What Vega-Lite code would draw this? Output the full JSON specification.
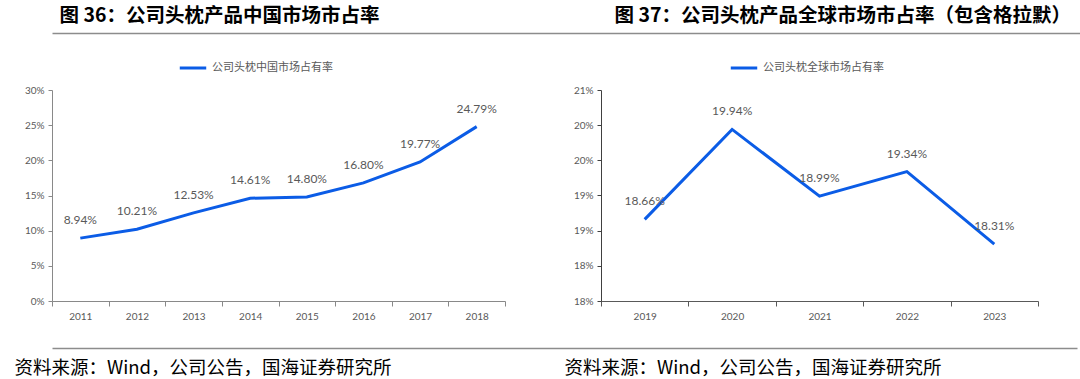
{
  "$schema": "https://vega.github.io/schema/vega-lite/v6.json",
  "padding": {"left": 0, "right": 2, "top": 5, "bottom": 2},
  "config": {
    "view": {"stroke": null},
    "font": "Noto Sans CJK SC",
    "axis": {"labelFont": "Lato", "grid": false},
    "legend": {"labelFont": "Noto Sans CJK SC"}
  },
  "align": "none",
  "spacing": 20,
  "vconcat": [
    {
      "width": 1075,
      "height": 2,
      "mark": {"type": "point", "opacity": 0},
      "encoding": {
        "x": {"datum": 0, "type": "quantitative", "scale": {"domain": [0, 1]},
          "axis": {"orient": "bottom", "domain": true, "domainColor": "#8c8c8c", "domainWidth": 1.5, "ticks": false, "labels": false, "grid": false,
            "title": "图 36：公司头枕产品中国市场市占率", "titleX": 7, "titleY": -8, "titleAlign": "left", "titleAnchor": "start", "titleBaseline": "bottom", "titleFontSize": 19.5, "titleFontWeight": "bold", "titleColor": "#000000", "titleFont": "Noto Sans CJK SC"}},
        "y": {"datum": 0, "type": "quantitative", "scale": {"domain": [0, 1]},
          "axis": {"orient": "left", "domain": false, "ticks": false, "labels": false, "grid": false,
            "title": "图 37：公司头枕产品全球市场市占率（包含格拉默）", "titleX": 562, "titleY": -6, "titleAngle": 0, "titleAlign": "left", "titleAnchor": "start", "titleBaseline": "bottom", "titleFontSize": 19.5, "titleFontWeight": "bold", "titleColor": "#000000", "titleFont": "Noto Sans CJK SC"}}
      }
    },
    {
      "spacing": 55,
      "hconcat": [
        {
          "width": 453,
          "height": 211,
          "data": {"values": [
            {"year": "2011", "share": 0.0894, "series": "公司头枕中国市场占有率"},
            {"year": "2012", "share": 0.1021, "series": "公司头枕中国市场占有率"},
            {"year": "2013", "share": 0.1253, "series": "公司头枕中国市场占有率"},
            {"year": "2014", "share": 0.1461, "series": "公司头枕中国市场占有率"},
            {"year": "2015", "share": 0.1480, "series": "公司头枕中国市场占有率"},
            {"year": "2016", "share": 0.1680, "series": "公司头枕中国市场占有率"},
            {"year": "2017", "share": 0.1977, "series": "公司头枕中国市场占有率"},
            {"year": "2018", "share": 0.2479, "series": "公司头枕中国市场占有率"}
          ]},
          "encoding": {
            "x": {"field": "year", "type": "ordinal", "scale": {"type": "band", "paddingInner": 0, "paddingOuter": 0},
              "axis": {"tickBand": "extent", "labelAngle": 0, "domainColor": "#898989", "tickColor": "#898989", "tickSize": 5, "labelPadding": 5, "labelFontSize": 10, "labelColor": "#595959",
                "title": "%", "titleX": 0, "titleY": 17, "titleAlign": "left", "titleBaseline": "top", "titleOpacity": 0, "titleFontSize": 8}},
            "y": {"field": "share", "type": "quantitative", "scale": {"domain": [0, 0.3], "nice": false, "zero": false},
              "axis": {"values": [0, 0.05, 0.1, 0.15, 0.2, 0.25, 0.3], "format": ".0%", "domainColor": "#898989", "tickColor": "#898989", "tickSize": 4, "labelPadding": 4, "labelFontSize": 10, "labelColor": "#595959",
                "title": "%", "titleX": -52, "titleY": 100, "titleAngle": 0, "titleAlign": "left", "titleOpacity": 0, "titleFontSize": 8}}
          },
          "layer": [
            {
              "mark": {"type": "line", "strokeWidth": 3},
              "encoding": {
                "color": {"field": "series", "type": "nominal", "scale": {"range": ["#0b5ce6"]},
                  "legend": {"orient": "none", "legendX": 126, "legendY": -37, "direction": "horizontal", "title": null, "symbolType": "stroke", "symbolSize": 700, "symbolStrokeWidth": 3, "labelFontSize": 11, "labelColor": "#595959"}}
              }
            },
            {
              "mark": {"type": "text", "dy": -18, "fontSize": 12, "font": "Lato", "color": "#595959"},
              "encoding": {"text": {"field": "share", "type": "quantitative", "format": ".2%"}}
            }
          ]
        },
        {
          "width": 437,
          "height": 211,
          "data": {"values": [
            {"year": "2019", "share": 0.1866, "series": "公司头枕全球市场占有率"},
            {"year": "2020", "share": 0.1994, "series": "公司头枕全球市场占有率"},
            {"year": "2021", "share": 0.1899, "series": "公司头枕全球市场占有率"},
            {"year": "2022", "share": 0.1934, "series": "公司头枕全球市场占有率"},
            {"year": "2023", "share": 0.1831, "series": "公司头枕全球市场占有率"}
          ]},
          "encoding": {
            "x": {"field": "year", "type": "ordinal", "scale": {"type": "band", "paddingInner": 0, "paddingOuter": 0},
              "axis": {"tickBand": "extent", "labelAngle": 0, "domainColor": "#595959", "tickColor": "#595959", "tickSize": 5, "labelPadding": 5, "labelFontSize": 10, "labelColor": "#595959", "title": null}},
            "y": {"field": "share", "type": "quantitative", "scale": {"domain": [0.175, 0.205], "nice": false, "zero": false},
              "axis": {"values": [0.175, 0.18, 0.185, 0.19, 0.195, 0.2, 0.205], "labelExpr": "format(round(datum.value * 100 + 0.001), 'd') + '%'", "domainColor": "#404040", "tickColor": "#404040", "tickSize": 4, "labelPadding": 4, "labelFontSize": 10, "labelColor": "#595959",
                "title": "%", "titleX": -40, "titleY": 100, "titleAngle": 0, "titleAlign": "left", "titleOpacity": 0, "titleFontSize": 8}}
          },
          "layer": [
            {
              "mark": {"type": "line", "strokeWidth": 3},
              "encoding": {
                "color": {"field": "series", "type": "nominal", "scale": {"range": ["#0b5ce6"]},
                  "legend": {"orient": "none", "legendX": 128, "legendY": -37, "direction": "horizontal", "title": null, "symbolType": "stroke", "symbolSize": 700, "symbolStrokeWidth": 3, "labelFontSize": 11, "labelColor": "#595959"}}
              }
            },
            {
              "mark": {"type": "text", "dy": -18, "fontSize": 12, "font": "Lato", "color": "#595959"},
              "encoding": {"text": {"field": "share", "type": "quantitative", "format": ".2%"}}
            }
          ]
        }
      ],
      "resolve": {"scale": {"color": "independent"}}
    },
    {
      "width": 1025,
      "height": 2,
      "mark": {"type": "point", "opacity": 0},
      "encoding": {
        "x": {"datum": 0, "type": "quantitative", "scale": {"domain": [0, 1]},
          "axis": {"orient": "bottom", "domain": true, "domainColor": "#8c8c8c", "domainWidth": 1.5, "ticks": false, "labels": false, "grid": false,
            "title": "资料来源：Wind，公司公告，国海证券研究所", "titleX": -38, "titleY": 10, "titleAlign": "left", "titleAnchor": "start", "titleBaseline": "top", "titleFontSize": 18.5, "titleFontWeight": "normal", "titleColor": "#000000", "titleFont": "Noto Sans CJK SC"}},
        "y": {"datum": 0, "type": "quantitative", "scale": {"domain": [0, 1]},
          "axis": {"orient": "left", "domain": false, "ticks": false, "labels": false, "grid": false,
            "title": "资料来源：Wind，公司公告，国海证券研究所", "titleX": 512, "titleY": 12, "titleAngle": 0, "titleAlign": "left", "titleAnchor": "start", "titleBaseline": "top", "titleFontSize": 18.5, "titleFontWeight": "normal", "titleColor": "#000000", "titleFont": "Noto Sans CJK SC"}}
      }
    }
  ]
}
